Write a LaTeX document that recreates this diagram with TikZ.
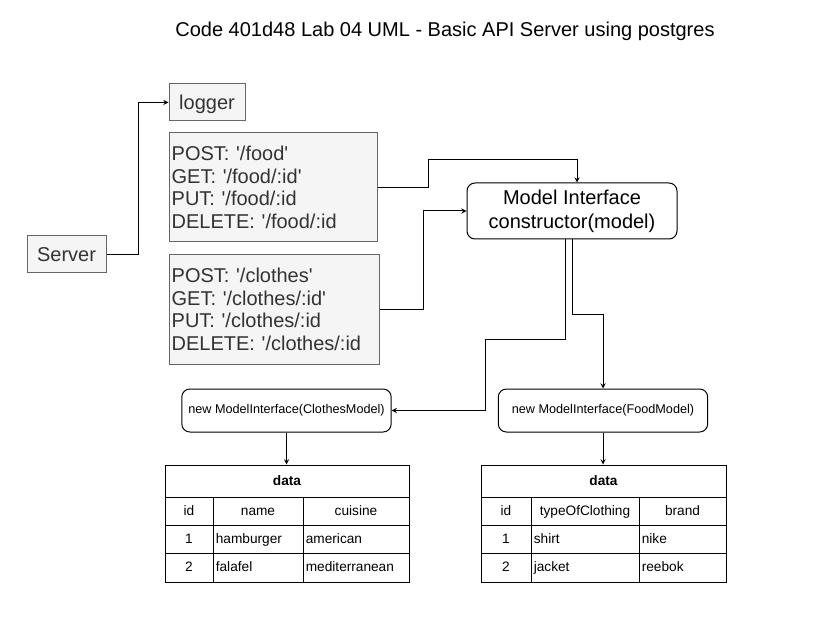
\documentclass[tikz,border=0pt]{standalone}
\usepackage{fontspec}
\setmainfont{Liberation Sans}
\usetikzlibrary{positioning}
\definecolor{boxfill}{HTML}{F5F5F5}
\definecolor{boxline}{HTML}{666666}
\definecolor{boxtext}{HTML}{333333}
\newcommand{\sq}{\textquotesingle}
\begin{document}
\begin{tikzpicture}[x=0.75pt, y=-0.75pt, line width=0.75pt]
    \tikzstyle{plain} = [rectangle, draw=boxline, fill=boxfill, text=boxtext, font=\fontsize{15}{16.9}\selectfont, inner sep=2pt]
    \tikzstyle{single} = [plain, text height=12pt, text depth=1pt]
    \tikzstyle{routes} = [plain, align=left, minimum height=81.75pt]
    \tikzstyle{model} = [rectangle, rounded corners=6pt, draw, fill=white, align=center, font=\fontsize{15}{18}\selectfont]
    \tikzstyle{newbox} = [model, minimum width=157pt, minimum height=32.25pt, font=\fontsize{9.5}{11}\selectfont]
    \tikzstyle{table} = [rectangle, draw, minimum height=87.75pt]
    \tikzstyle{cell} = [inner sep=1pt, text height=9pt, text depth=2pt, font=\fontsize{10.25}{12}\selectfont]
    \tikzstyle{arrow} = [->,>=stealth]

    \useasboundingbox (0,0) rectangle (836,624);

    \node (title) at (445,31.5) [font=\fontsize{15}{18}\selectfont] {Code 401d48 Lab 04 UML - Basic API Server using postgres};

    \node (server) [single, minimum width=59.25pt, minimum height=27.75pt] at (66.5,254.5) {Server};
    \node (logger) [single, minimum width=57pt, minimum height=27.75pt] at (207,102.5) {logger};
    \node (foodr) [routes, text width=152pt] at (273,187.5) {POST: \sq/food\sq\\GET: \sq/food/:id\sq\\PUT: \sq/food/:id\\DELETE: \sq/food/:id};
    \node (clothesr) [routes, text width=153.5pt] at (274,309.5) {POST: \sq/clothes\sq\\GET: \sq/clothes/:id\sq\\PUT: \sq/clothes/:id\\DELETE: \sq/clothes/:id};
    \node (model) [model, minimum width=157.5pt, minimum height=42pt] at (572,211) {Model Interface\\constructor(model)};
    \node (cnew) [newbox] at (286.5,410.5) {new ModelInterface(ClothesModel)};
    \node (fnew) [newbox] at (603,410.5) {new ModelInterface(FoodModel)};

    % tables
    \node (tclothes) [table, minimum width=183pt] at (287,523.5) {};
    \node (tfood) [table, minimum width=183.75pt] at (603.5,523.5) {};
    \foreach \y in {497,525,553} {
        \draw (tclothes.west |- 0,\y) -- (tclothes.east |- 0,\y);
        \draw (tfood.west |- 0,\y) -- (tfood.east |- 0,\y);
    }
    \foreach \x in {213,303} \draw (\x,497) -- (\x,0 |- tclothes.south);
    \foreach \x in {531,639} \draw (\x,497) -- (\x,0 |- tfood.south);

    \node (cdata) [cell] at (287,481) {\textbf{data}};
    \node (cid) [cell] at (189,511) {id};
    \node (cname) [cell] at (258,511) {name};
    \node (ccuisine) [cell] at (356,511) {cuisine};
    \node (c1id) [cell] at (189,539) {1};
    \node (c1name) [cell, anchor=west] at (214,539) {hamburger};
    \node (c1cuisine) [cell, anchor=west] at (304,539) {american};
    \node (c2id) [cell] at (189,567) {2};
    \node (c2name) [cell, anchor=west] at (214,567) {falafel};
    \node (c2cuisine) [cell, anchor=west] at (304,567) {mediterranean};

    \node (fdata) [cell] at (603.5,481) {\textbf{data}};
    \node (fid) [cell] at (506,511) {id};
    \node (ftype) [cell] at (585,511) {typeOfClothing};
    \node (fbrand) [cell] at (682.5,511) {brand};
    \node (f1id) [cell] at (506,539) {1};
    \node (f1type) [cell, anchor=west] at (532,539) {shirt};
    \node (f1brand) [cell, anchor=west] at (640,539) {nike};
    \node (f2id) [cell] at (506,567) {2};
    \node (f2type) [cell, anchor=west] at (532,567) {jacket};
    \node (f2brand) [cell, anchor=west] at (640,567) {reebok};

    \draw [arrow] (server.east) -- ++(32,0) |- (logger.west);
    \draw [arrow] (foodr.east) -- ++(51,0) -- ++(0,-28) -| ([xshift=3.75pt]model.north);
    \draw [arrow] (clothesr.east) -- ++(44,0) |- (model.west);
    \draw [arrow] ([xshift=-5.25pt]model.south) -- ++(0,100) -- ++(-80,0) |- (cnew.east);
    \draw [arrow] (model.south) -- ++(0,75) -| (fnew.north);
    \draw [arrow] (cnew.south) -- (cnew.south |- tclothes.north);
    \draw [arrow] (fnew.south) -- (fnew.south |- tfood.north);
\end{tikzpicture}
\end{document}
